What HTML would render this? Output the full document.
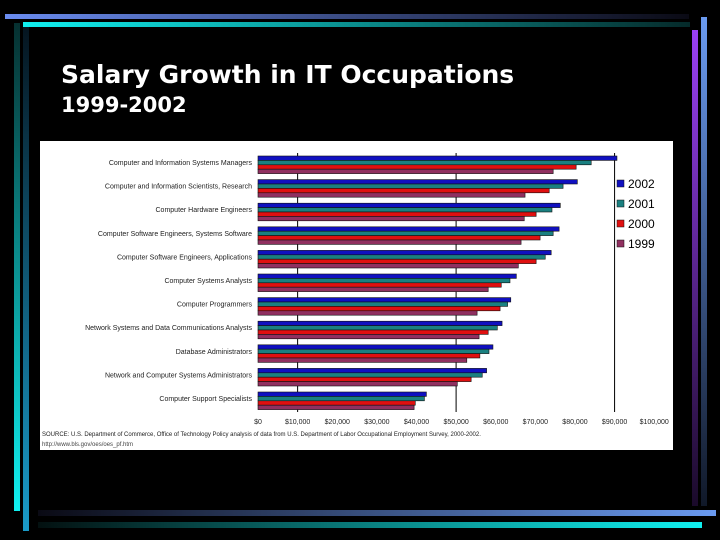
<!DOCTYPE html>
<html><head><meta charset="utf-8"><style>
body{margin:0;background:#000;width:720px;height:540px;overflow:hidden;position:relative;font-family:"DejaVu Sans","Liberation Sans",sans-serif}
.d{position:absolute}
</style></head><body>
<div class="d" style="left:5px;top:14px;width:684px;height:5px;background:linear-gradient(90deg,#6a8cf0,#0a0a14)"></div>
<div class="d" style="left:23px;top:22px;width:667px;height:5px;background:linear-gradient(90deg,#10f0f0,#052a2a)"></div>
<div class="d" style="left:14px;top:23px;width:6px;height:488px;background:linear-gradient(180deg,#063030,#10f0f0)"></div>
<div class="d" style="left:23px;top:27px;width:6px;height:504px;background:linear-gradient(180deg,#051520,#1a9ac8)"></div>
<div class="d" style="left:692px;top:30px;width:6px;height:476px;background:linear-gradient(180deg,#9a40f4,#1a0a2a)"></div>
<div class="d" style="left:701px;top:17px;width:6px;height:489px;background:linear-gradient(180deg,#6a9af0,#101828)"></div>
<div class="d" style="left:38px;top:510px;width:678px;height:6px;background:linear-gradient(90deg,#0a0a14,#6a9af0)"></div>
<div class="d" style="left:38px;top:522px;width:664px;height:6px;background:linear-gradient(90deg,#031010,#10f0f0)"></div>
<div class="d" style="left:61px;top:60px;color:#fff;font-weight:bold;font-size:25px;white-space:nowrap">Salary Growth in IT Occupations</div>
<div class="d" style="left:61px;top:93px;color:#fff;font-weight:bold;font-size:21px">1999-2002</div>
<svg class="d" style="left:40px;top:141px" width="633" height="309" viewBox="40 141 633 309">
<rect x="40" y="141" width="633" height="309" fill="#fff"/>
<g id="g"></g>
</svg>
<script>
const categories=["Computer and Information Systems Managers","Computer and Information Scientists, Research","Computer Hardware Engineers","Computer Software Engineers, Systems Software","Computer Software Engineers, Applications","Computer Systems Analysts","Computer Programmers","Network Systems and Data Communications Analysts","Database Administrators","Network and Computer Systems Administrators","Computer Support Specialists"];
const s2002=[90600,80600,76300,76000,74000,65200,63800,61600,59300,57700,42500];
const s2001=[84100,77000,74200,74500,72500,63600,63000,60400,58300,56600,42000];
const s2000=[80300,73500,70200,71200,70200,61400,61100,58100,56000,53800,39700];
const s1999=[74500,67400,67200,66400,65700,58100,55300,55800,52700,50300,39400];
const years=["2002","2001","2000","1999"];
const tickLabels=["$0","$10,000","$20,000","$30,000","$40,000","$50,000","$60,000","$70,000","$80,000","$90,000","$100,000"];
const tickValues=[0,10000,20000,30000,40000,50000,60000,70000,80000,90000,100000];
const colors=["#1010c0","#1a8080","#e01010","#903060"];
const series=[s2002,s2001,s2000,s1999];
const NS="http://www.w3.org/2000/svg",g=document.getElementById('g');
const x=v=>258+v*0.003962;
const bandTop=153,band=23.6;
const y=i=>bandTop+i*band;
function mk(t,a){const e=document.createElementNS(NS,t);for(const k in a)e.setAttribute(k,a[k]);g.appendChild(e);return e;}
[10000,50000,90000].forEach(v=>{const l=mk('line',{x1:x(v),x2:x(v),y1:153,y2:412,stroke:'#000','stroke-width':1});

});
categories.forEach((c,i)=>{
 const t=mk('text',{x:252,y:y(i)+12,'text-anchor':'end','font-size':7,fill:'#222','font-family':'Liberation Sans, sans-serif'});t.textContent=c;
 
 
 series.forEach((s,j)=>{const r=mk('rect',{x:x(0),y:y(i)+3+j*4.4,width:x(s[i])-x(0),height:4.4,fill:colors[j],stroke:'#111','stroke-width':0.6});
 
 });
});
tickValues.forEach((v,i)=>{const t=mk('text',{x:x(v),y:424,'text-anchor':'middle','font-size':7,fill:'#222','font-family':'Liberation Sans, sans-serif'});t.textContent=tickLabels[i];

});
years.forEach((yr,j)=>{const r=mk('rect',{x:617,y:180+j*20,width:7,height:7,fill:colors[j],stroke:'#111','stroke-width':0.5});


const t=mk('text',{x:628,y:188+j*20,'font-size':12,fill:'#000','font-family':'Liberation Sans, sans-serif'});t.textContent=yr;

});
const s1=mk('text',{x:42,y:436,'font-size':6,fill:'#222','font-family':'Liberation Sans, sans-serif'});s1.textContent="SOURCE: U.S. Department of Commerce, Office of Technology Policy analysis of data from U.S. Department of Labor Occupational Employment Survey, 2000-2002.";


const s2=mk('text',{x:42,y:446,'font-size':6,fill:'#444','font-family':'Liberation Sans, sans-serif'});s2.textContent="http://www.bls.gov/oes/oes_pf.htm";


</script>
</body></html>
